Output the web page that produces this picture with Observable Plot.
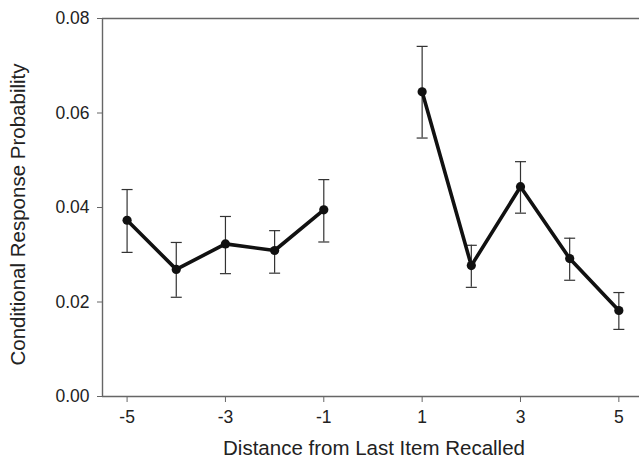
<!DOCTYPE html>
<html>
<head>
<meta charset="utf-8">
<script src="https://cdn.jsdelivr.net/npm/d3@7"></script>
<script src="https://cdn.jsdelivr.net/npm/@observablehq/plot@0.6"></script>
<style>
  html, body { margin: 0; padding: 0; background: #fff; }
  #chart svg { display: block; }
</style>
</head>
<body>
<div id="chart"></div>
<script>
// Lag (distance from last item recalled)
const distances = [-5, -4, -3, -2, -1, 1, 2, 3, 4, 5];
// Conditional response probability
const crp   = [0.0373, 0.0269, 0.0323, 0.0309, 0.0395, 0.0645, 0.0277, 0.0444, 0.0292, 0.0182];
const upper = [0.0438, 0.0326, 0.0381, 0.0351, 0.0459, 0.0741, 0.0320, 0.0497, 0.0335, 0.0220];
const lower = [0.0305, 0.0210, 0.0260, 0.0261, 0.0327, 0.0547, 0.0231, 0.0388, 0.0246, 0.0142];
const xTicks = [-5, -3, -1, 1, 3, 5];
const yTicks = [0, 0.02, 0.04, 0.06, 0.08];
const xLabel = "Distance from Last Item Recalled";
const yLabel = "Conditional Response Probability";

const data = distances.map((d, i) => ({
  lag: d, p: crp[i], hi: upper[i], lo: lower[i], side: d < 0 ? "backward" : "forward"
}));

const capSymbol = {
  draw(context, size) {
    const r = Math.sqrt(size / Math.PI);
    context.moveTo(-r, 0);
    context.lineTo(r, 0);
  }
};

const font = "'Liberation Sans', Arial, Helvetica, sans-serif";

const chart = Plot.plot({
  width: 639,
  height: 461,
  marginLeft: 102,
  marginRight: 0,
  marginTop: 18,
  marginBottom: 65,
  style: { fontFamily: font, color: "#222", background: "#fff" },
  x: { domain: [-5.5, 5.42] },
  y: { domain: [0, 0.08] },
  marks: [
    Plot.ruleX([-5.5], { stroke: "#666", strokeWidth: 1.4 }),
    Plot.ruleY([0], { stroke: "#666", strokeWidth: 1.4 }),
    Plot.ruleY([0.08], { stroke: "#666", strokeWidth: 1.4 }),
    Plot.axisX({ ticks: xTicks, tickFormat: d => String(d), tickSize: 6, tickPadding: 8, fontSize: 17.5, stroke: "#666", label: null }),
    Plot.axisY({ ticks: yTicks, tickFormat: d3.format(".2f"), tickSize: 5, tickPadding: 8, fontSize: 17.5, stroke: "#666", label: null }),
    Plot.ruleX(data, { x: "lag", y1: "lo", y2: "hi", stroke: "#333", strokeWidth: 1.2 }),
    Plot.dot(data, { x: "lag", y: "hi", symbol: capSymbol, r: 5.5, stroke: "#333", strokeWidth: 1.2, fill: "none" }),
    Plot.dot(data, { x: "lag", y: "lo", symbol: capSymbol, r: 5.5, stroke: "#333", strokeWidth: 1.2, fill: "none" }),
    Plot.line(data, { x: "lag", y: "p", z: "side", stroke: "#111", strokeWidth: 3.6 }),
    Plot.dot(data, { x: "lag", y: "p", r: 4.6, fill: "#111", stroke: "none" }),
    Plot.text([xLabel], { text: d => d, frameAnchor: "bottom", textAnchor: "middle", lineAnchor: "middle", dy: 52, dx: 3, fontSize: 20.5, fill: "#222" }),
    Plot.text([yLabel], { text: d => d, frameAnchor: "left", rotate: -90, textAnchor: "middle", lineAnchor: "middle", dx: -84, dy: 7, fontSize: 20.5, fill: "#222" })
  ]
});

document.getElementById("chart").appendChild(chart);
</script>
</body>
</html>
